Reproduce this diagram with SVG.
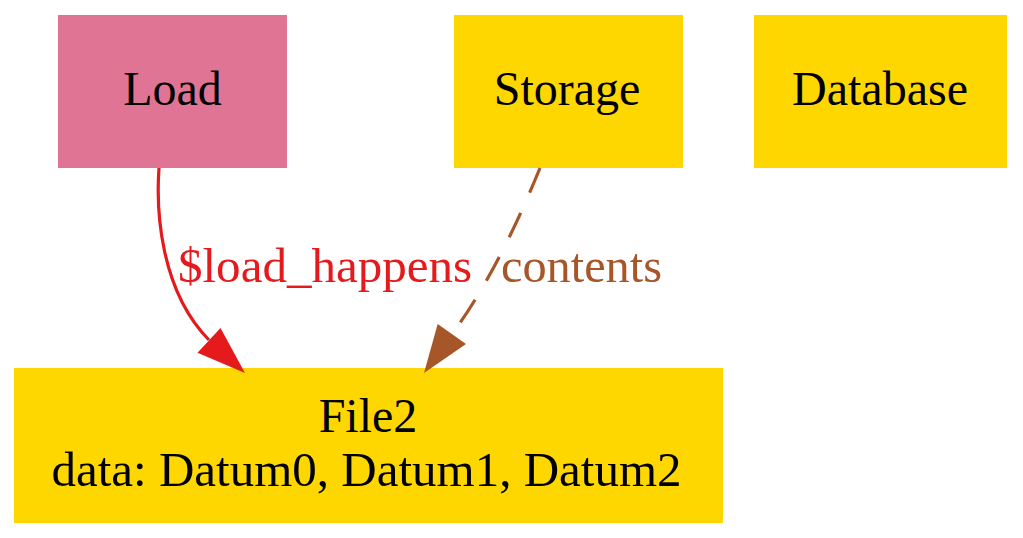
<svg xmlns="http://www.w3.org/2000/svg" width="1023" height="538" viewBox="0 0 1023 538">
<defs>
<style>
text{font-family:"Liberation Serif","Times New Roman",serif;font-size:48px;}
.n{text-anchor:middle;fill:#000;}
.pink{fill:#e07494;}
.gold{fill:#ffd700;}
.e{fill:none;stroke-width:3.2;}
</style>
</defs>
<rect width="1023" height="538" fill="#fff"/>
<g id="Load"><rect class="pink" x="58" y="15" width="229" height="153"/><text class="n" x="172.5" y="105">Load</text></g>
<g id="Storage"><rect class="gold" x="454" y="15" width="229" height="153"/><text class="n" x="567" y="105">Storage</text></g>
<g id="Database"><rect class="gold" x="754" y="15" width="253" height="153"/><text class="n" x="880" y="105">Database</text></g>
<g id="File2"><rect class="gold" x="14" y="368" width="709" height="155"/><text class="n" x="368" y="432">File2</text><text class="n" x="366.5" y="486" textLength="630" lengthAdjust="spacingAndGlyphs">data: Datum0, Datum1, Datum2</text></g>
<g id="connectors">
<path class="e" stroke="#e41a1c" d="M159,168 C156,210 160,290 209,340"/>
<polygon fill="#e41a1c" points="245,373 197.5,352.7 220.5,328"/>
<text x="178" y="282" fill="#e41a1c" textLength="294" lengthAdjust="spacingAndGlyphs">$load_happens</text>
<path class="e" stroke="#a65628" stroke-dasharray="27,22" d="M540,168 C522,212 492,280 452,334"/>
<polygon fill="#a65628" points="424,373 437.7,324 466,344"/>
<text x="501" y="282" fill="#a65628" textLength="161" lengthAdjust="spacingAndGlyphs">contents</text>
</g>
</svg>
